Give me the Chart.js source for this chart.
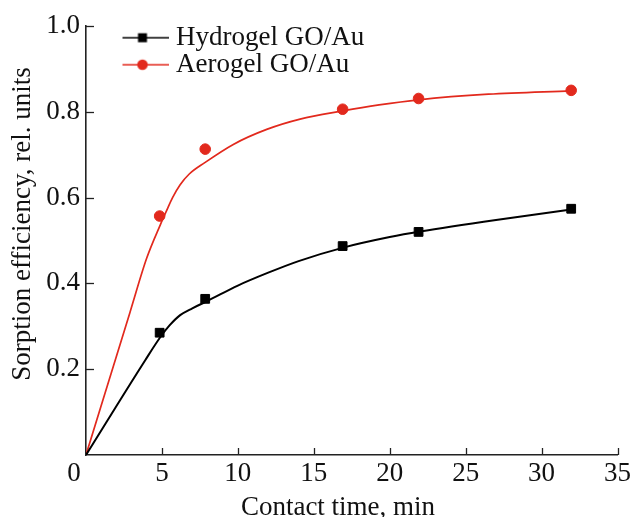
<!DOCTYPE html>
<html><head><meta charset="utf-8">
<script src="https://cdn.jsdelivr.net/npm/chart.js@4"></script>
<style>html,body{margin:0;padding:0;background:#fff;}#wrap{width:634px;height:517px;position:relative;}</style>
</head><body><div id="wrap"><canvas id="c" width="634" height="517"></canvas></div>
<script>
const seriesNames = ['Hydrogel GO/Au', 'Aerogel GO/Au'];
const contactTimes = [4.85, 7.85, 16.9, 21.9, 31.95];
const hydrogelValues = [0.285, 0.364, 0.487, 0.520, 0.574];
const aerogelValues = [0.557, 0.713, 0.806, 0.831, 0.850];
const hydrogelFitTimes = [0, 3.9, 4.9, 5.5, 6.2, 7.0, 8.0, 10.0, 12.0, 14.0, 17.0, 20.0, 22.0, 27.0, 31.95];
const hydrogelFitValues = [0, 0.221, 0.275, 0.302, 0.326, 0.342, 0.359, 0.395, 0.425, 0.452, 0.484, 0.508, 0.521, 0.548, 0.572];
const aerogelFitTimes = [0, 2.9, 4.0, 4.9, 5.3, 5.7, 6.2, 6.8, 7.8, 9.7, 11.9, 14.1, 16.9, 19.3, 21.9, 26.5, 31.95];
const aerogelFitValues = [0, 0.333, 0.459, 0.537, 0.569, 0.600, 0.630, 0.655, 0.681, 0.724, 0.759, 0.783, 0.802, 0.816, 0.828, 0.841, 0.849];
const xTickValues = [0, 5, 10, 15, 20, 25, 30, 35];
const yTickValues = [0.2, 0.4, 0.6, 0.8, 1.0];
const xAxisTitle = 'Contact time, min';
const yAxisTitle = 'Sorption efficiency, rel. units';

const FONT = "'Liberation Serif', 'Times New Roman', serif";
const TXT = '#111';
const AX = '#222';
const RED = '#e2291d';
const BLK = '#000';

function pts(xs, ys) { return xs.map((x, i) => ({x: x, y: ys[i]})); }

function makeIcon(color, shape) {
  const c = document.createElement('canvas');
  c.width = 52; c.height = 14;
  const g = c.getContext('2d');
  g.strokeStyle = color; g.lineWidth = 1.6;
  g.beginPath(); g.moveTo(0, 7); g.lineTo(52, 7); g.stroke();
  g.fillStyle = color;
  if (shape === 'rect') { g.fillRect(26 - 4.5, 7 - 4.5, 9, 9); }
  else { g.beginPath(); g.arc(26, 7, 5.3, 0, Math.PI * 2); g.fill(); }
  return c;
}
const icons = [makeIcon(BLK, 'rect'), makeIcon(RED, 'circle')];

const decor = {
  id: 'decor',
  beforeDraw(chart) {
    const lg = chart.legend;
    if (lg) {
      const dx = 122.5 - lg.left, dy = 24.2 - lg.top;
      lg.left += dx; lg.right += dx; lg.top += dy; lg.bottom += dy;
    }
  },
  afterDraw(chart) {
    const ctx = chart.ctx, ca = chart.chartArea;
    const xs = chart.scales.x, ys = chart.scales.y;
    ctx.save();
    ctx.strokeStyle = AX; ctx.lineWidth = 1.3;
    yTickValues.forEach(v => {
      const p = Math.round(ys.getPixelForValue(v)) + 0.5;
      ctx.beginPath(); ctx.moveTo(ca.left, p); ctx.lineTo(ca.left + 8, p); ctx.stroke();
    });
    xTickValues.forEach(v => {
      if (v === 0) return;
      const p = Math.round(xs.getPixelForValue(v)) + 0.5;
      ctx.beginPath(); ctx.moveTo(p, ca.bottom); ctx.lineTo(p, ca.bottom - 7); ctx.stroke();
    });
    ctx.fillStyle = TXT;
    ctx.font = '27px ' + FONT;
    ctx.textAlign = 'center'; ctx.textBaseline = 'middle';
    ctx.fillText(String(xTickValues[0]), xs.getPixelForValue(xTickValues[0]) - 12, ca.bottom + 3 + 16.2);
    ctx.textBaseline = 'alphabetic';
    ctx.fillText(xAxisTitle, 338, 515);
    ctx.translate(30, 224); ctx.rotate(-Math.PI / 2);
    ctx.fillText(yAxisTitle, 0, 0);
    ctx.restore();
  }
};

new Chart(document.getElementById('c'), {
  type: 'scatter',
  data: {
    datasets: [
      { label: seriesNames[0], data: pts(contactTimes, hydrogelValues), showLine: false,
        pointStyle: 'rect', pointRadius: 6.2, backgroundColor: BLK, borderColor: BLK, borderWidth: 1, order: 0 },
      { label: seriesNames[1], data: pts(contactTimes, aerogelValues), showLine: false,
        pointStyle: 'circle', pointRadius: 5.3, backgroundColor: RED, borderColor: RED, borderWidth: 1, order: 0 },
      { label: seriesNames[0] + ' fit', data: pts(hydrogelFitTimes, hydrogelFitValues), showLine: true,
        pointRadius: 0, borderColor: BLK, borderWidth: 2, cubicInterpolationMode: 'monotone', order: 1 },
      { label: seriesNames[1] + ' fit', data: pts(aerogelFitTimes, aerogelFitValues), showLine: true,
        pointRadius: 0, borderColor: RED, borderWidth: 1.7, cubicInterpolationMode: 'monotone', order: 1 }
    ]
  },
  options: {
    responsive: false, animation: false, devicePixelRatio: 1,
    layout: { padding: { left: 0, top: 26, right: 15, bottom: 0 } },
    plugins: {
      tooltip: { enabled: false },
      legend: {
        position: 'chartArea', align: 'start',
        labels: {
          usePointStyle: true, pointStyleWidth: 40, padding: 0,
          color: TXT, font: { family: FONT, size: 27 },
          generateLabels(chart) {
            const items = Chart.defaults.plugins.legend.labels.generateLabels(chart);
            return items.filter(it => it.datasetIndex < 2).map(it => {
              it.pointStyle = icons[it.datasetIndex]; it.fontColor = TXT; return it;
            });
          }
        }
      }
    },
    scales: {
      x: {
        type: 'linear', min: 0, max: 35,
        afterBuildTicks(s) { s.ticks = xTickValues.map(v => ({ value: v })); },
        afterFit(s) { s.height = 62; },
        grid: { display: false, drawTicks: false },
        border: { display: true, color: AX, width: 1.6 },
        ticks: { color: TXT, font: { family: FONT, size: 27 }, padding: 3, maxRotation: 0, autoSkip: false,
          callback: v => (v === 0 ? '' : String(v)) }
      },
      y: {
        type: 'linear', min: 0, max: 1.0,
        afterBuildTicks(s) { s.ticks = yTickValues.map(v => ({ value: v })); },
        afterFit(s) { s.width = 86; },
        grid: { display: false, drawTicks: false },
        border: { display: true, color: AX, width: 1.6 },
        ticks: { color: TXT, font: { family: FONT, size: 27 }, padding: 6, autoSkip: false,
          callback: v => Number(v).toFixed(1) }
      }
    }
  },
  plugins: [decor]
});
</script>
</body></html>
